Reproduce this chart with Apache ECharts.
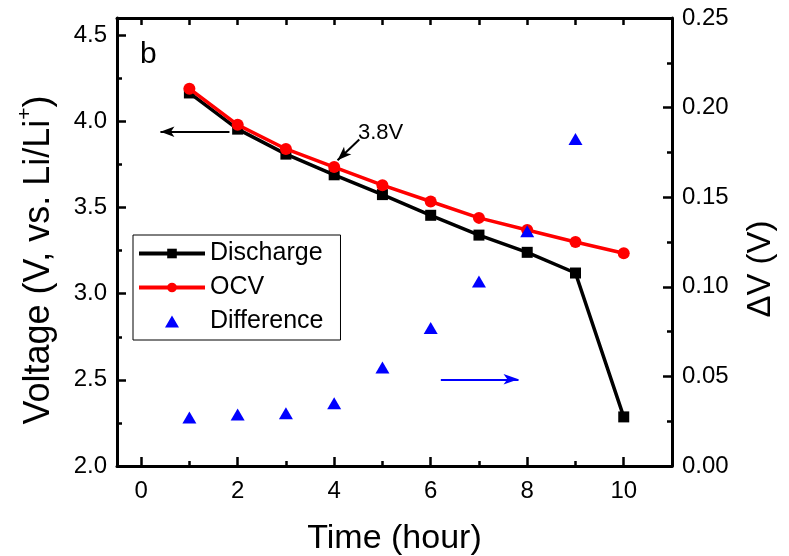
<!DOCTYPE html>
<html><head><meta charset="utf-8">
<script src="https://cdn.jsdelivr.net/npm/echarts@6/dist/echarts.min.js"></script>
<style>html,body{margin:0;padding:0;background:#fff}#c{width:789px;height:556px}</style>
</head><body><div id="c"></div>
<script>
const times = [1,2,3,4,5,6,7,8,9,10];
const discharge = [4.165,3.955,3.81,3.69,3.575,3.455,3.34,3.24,3.12,2.285];
const ocv = [4.19,3.98,3.84,3.735,3.63,3.535,3.44,3.37,3.30,3.235];
const diffTimes = [1,2,3,4,5,6,7,8,9];
const difference = [0.027,0.0288,0.0295,0.035,0.055,0.077,0.103,0.131,0.1825];
const xMajorTicks = [0,2,4,6,8,10];
const xMinorTicks = [1,3,5,7,9];
const xAllTicks = [0,1,2,3,4,5,6,7,8,9,10];

const F = 'Liberation Sans, Arial, sans-serif';
const chart = echarts.init(document.getElementById('c'));
const line = {show:true, onZero:false, lineStyle:{color:'#000', width:3}};
const noLine = {show:false, onZero:false};
const tick = (len) => ({show:true, inside:true, length:len, lineStyle:{color:'#000', width:2.5}});
const lab = {color:'#000', fontSize:24, fontFamily:F};
chart.setOption({
  animation:false,
  textStyle:{fontFamily:F},
  grid:{left:117, right:117, top:18, bottom:90, containLabel:false, outerBoundsMode:'none'},
  xAxis:[
    {type:'value', min:-0.5, max:11, position:'bottom', axisLine:line,
     axisTick:Object.assign(tick(9), {customValues:xMajorTicks}),
     splitLine:{show:false},
     axisLabel:Object.assign({}, lab, {margin:13, customValues:xMajorTicks}),
     name:'Time (hour)', nameLocation:'middle', nameGap:56,
     nameTextStyle:{color:'#000', fontSize:34, fontFamily:F}},
    {type:'value', min:-0.5, max:11, position:'top', axisLine:line,
     axisTick:Object.assign(tick(7), {customValues:xAllTicks}),
     axisLabel:{show:false}, splitLine:{show:false}},
    {type:'value', min:-0.5, max:11, position:'bottom', axisLine:noLine,
     axisTick:Object.assign(tick(5), {customValues:xMinorTicks}),
     axisLabel:{show:false}, splitLine:{show:false}}
  ],
  yAxis:[
    {type:'value', min:2.0, max:4.6, interval:0.25, position:'left',
     axisLine:line, axisTick:tick(5), splitLine:{show:false},
     axisLabel:Object.assign({}, lab, {margin:10,
       formatter:v=> (Math.abs(v*2-Math.round(v*2))<1e-6 && v<=4.5) ? v.toFixed(1) : ''}),
     name:'{a|Voltage (V, vs. Li/Li}{s|+}{a|)}', nameLocation:'middle', nameGap:60, nameRotate:90,
     nameTextStyle:{color:'#000', fontSize:36, fontFamily:F, padding:[0,36,0,0],
       rich:{a:{fontSize:36, fontFamily:F, color:'#000', lineHeight:42, verticalAlign:'bottom'},
             s:{fontSize:21, fontFamily:F, color:'#000', lineHeight:42, verticalAlign:'top'}}}},
    {type:'value', min:0, max:0.25, interval:0.025, position:'right',
     axisLine:line, axisTick:tick(5), splitLine:{show:false},
     axisLabel:Object.assign({}, lab, {margin:10,
       formatter:v=> (Math.abs(v*20-Math.round(v*20))<1e-6) ? v.toFixed(2) : ''}),
     name:'ΔV (V)', nameLocation:'middle', nameGap:72, nameRotate:90,
     nameTextStyle:{color:'#000', fontSize:33, fontFamily:F, padding:[0,54,0,0]}},
    {type:'value', min:2.0, max:4.6, interval:0.5, position:'left',
     axisLine:noLine, axisTick:tick(9), axisLabel:{show:false}, splitLine:{show:false}},
    {type:'value', min:0, max:0.25, interval:0.05, position:'right',
     axisLine:noLine, axisTick:tick(9), axisLabel:{show:false}, splitLine:{show:false}}
  ],
  legend:{left:133, top:235, orient:'vertical', itemGap:9, itemWidth:66, itemHeight:12,
    backgroundColor:'#fff', borderColor:'#000', borderWidth:1, padding:[6,17,6,4],
    lineStyle:{width:4},
    textStyle:{color:'#000', fontSize:25, fontFamily:F},
    data:['Discharge','OCV',
      {name:'Difference', icon:'path://M0,12L0.01,12Z M66,0L66.01,0Z M26,12L33,0L40,12Z'}]},
  graphic:[
    {type:'text', left:140, top:40, style:{text:'b', font:'30px '+F, fill:'#000'}},
    {type:'text', left:358, top:122, style:{text:'3.8V', font:'22px '+F, fill:'#000'}}
  ],
  series:[
    {name:'Discharge', type:'line', data:times.map((t,i)=>[t,discharge[i]]),
     symbol:'rect', symbolSize:11, lineStyle:{color:'#000', width:3.5}, itemStyle:{color:'#000'},
     z:3,
     markLine:{silent:true, symbol:['none','arrow'], symbolSize:[8,14], label:{show:false},
       lineStyle:{color:'#000', width:2, type:'solid'},
       data:[[{coord:[1.83,3.94]},{coord:[0.4,3.94]}],
             [{coord:[4.52,3.895]},{coord:[4.07,3.775]}]]}},
    {name:'OCV', type:'line', data:times.map((t,i)=>[t,ocv[i]]),
     symbol:'circle', symbolSize:12, lineStyle:{color:'#f00', width:3.5}, itemStyle:{color:'#f00'}, z:4},
    {name:'Difference', type:'scatter', yAxisIndex:1, data:diffTimes.map((t,i)=>[t,difference[i]]),
     symbol:'triangle', symbolSize:[14,12], itemStyle:{color:'#00f', opacity:1}, z:5,
     markLine:{silent:true, symbol:['none','arrow'], symbolSize:[8,15], label:{show:false},
       lineStyle:{color:'#00f', width:2, type:'solid'},
       data:[[{coord:[6.21,0.0484]},{coord:[7.82,0.0484]}]]}}
  ]
});
</script></body></html>
